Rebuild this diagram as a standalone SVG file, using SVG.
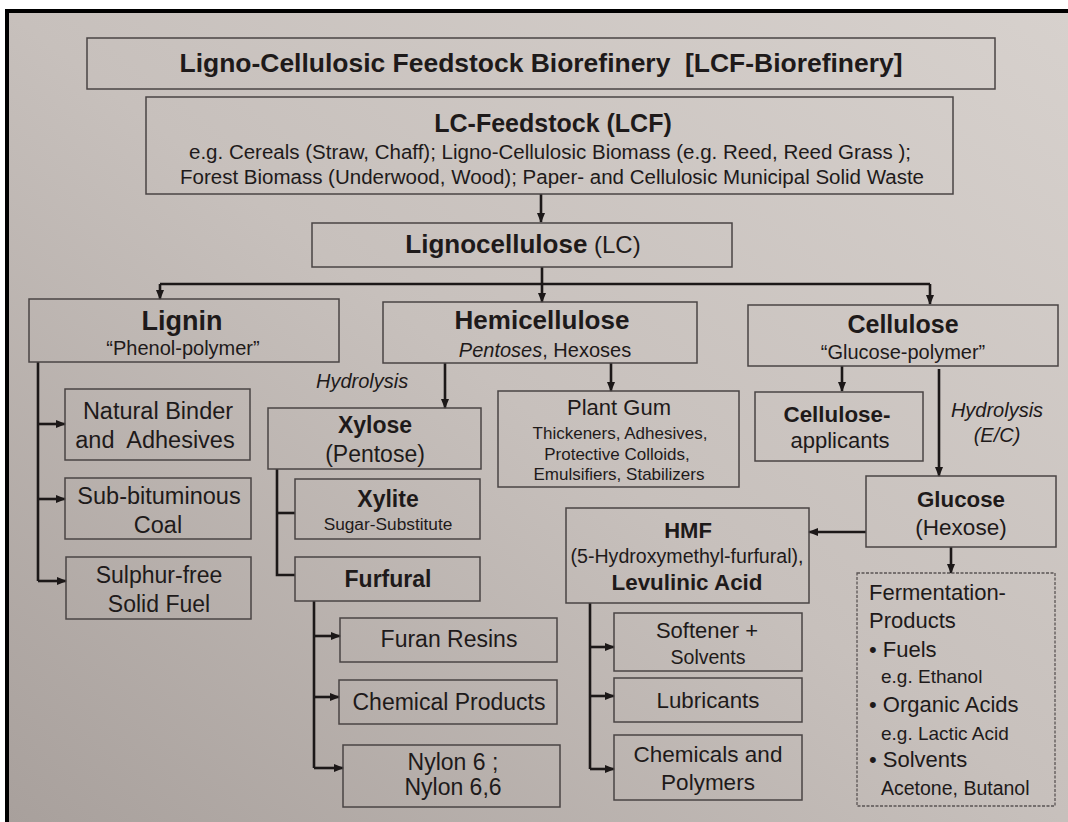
<svg xmlns="http://www.w3.org/2000/svg" width="1068" height="822" viewBox="0 0 1068 822">
<defs>
<linearGradient id="bg" x1="1" y1="0" x2="0" y2="1">
<stop offset="0" stop-color="#d7d1cd"/>
<stop offset="0.5" stop-color="#c7c0bc"/>
<stop offset="1" stop-color="#a8a09c"/>
</linearGradient>
<marker id="ah" markerWidth="10" markerHeight="8" refX="9" refY="4" orient="auto" markerUnits="userSpaceOnUse">
<path d="M0,0 L10,4 L0,8 z" fill="#1c1818"/>
</marker>
<style>
.box{fill:none;stroke:#4a4444;stroke-width:1.5}
.dash{fill:none;stroke:#5a5454;stroke-width:1.3;stroke-dasharray:3 1.5}
.ln{fill:none;stroke:#1c1818;stroke-width:2.6}
.arr{fill:none;stroke:#1c1818;stroke-width:2.6;marker-end:url(#ah)}
text{font-family:"Liberation Sans",Arial,sans-serif;fill:#1e1a1a}
.c{text-anchor:middle}
.b{font-weight:bold}
.i{font-style:italic}
</style>
</defs>
<rect x="0" y="0" width="1068" height="822" fill="#ffffff"/>
<rect x="7" y="11" width="1061" height="811" fill="url(#bg)"/>
<path d="M7,822 V11 H1068" fill="none" stroke="#000" stroke-width="4"/>

<g id="connectors">
<path class="arr" d="M541,194 V222"/>
<path class="arr" d="M542,267 V302"/>
<path class="ln" d="M160,284 H930" stroke-width="3"/>
<path class="arr" d="M160,284 V299"/>
<path class="arr" d="M930,284 V304"/>
<path class="arr" d="M445,363 V408"/>
<path class="arr" d="M611,363 V391"/>
<path class="arr" d="M842,366 V391"/>
<path class="arr" d="M939,369 V476"/>
<path class="arr" d="M866,532 H809"/>
<path class="arr" d="M951,547 V573"/>
<path class="ln" d="M38,362 V581"/>
<path class="arr" d="M37,424 H65"/>
<path class="arr" d="M37,499 H65"/>
<path class="arr" d="M38,581 H66"/>
<path class="ln" d="M277,469 V575 H295"/>
<path class="ln" d="M277,513 H295"/>
<path class="ln" d="M314,601 V768"/>
<path class="arr" d="M313,636 H340"/>
<path class="arr" d="M313,697 H339"/>
<path class="arr" d="M314,768 H343"/>
<path class="ln" d="M590,603 V769"/>
<path class="arr" d="M589,647 H614"/>
<path class="arr" d="M589,696 H614"/>
<path class="arr" d="M590,769 H614"/>
</g>

<g id="title">
<rect class="box" x="87" y="38" width="908" height="51"/>
<text class="c b" x="541" y="72" font-size="26" textLength="723" lengthAdjust="spacingAndGlyphs">Ligno-Cellulosic Feedstock Biorefinery&#160; [LCF-Biorefinery]</text>
</g>
<g id="lcf">
<rect class="box" x="146" y="97" width="807" height="97"/>
<text class="c b" x="553" y="132" font-size="25">LC-Feedstock (LCF)</text>
<text class="c" x="550" y="159" font-size="20" textLength="722" lengthAdjust="spacingAndGlyphs">e.g. Cereals (Straw, Chaff); Ligno-Cellulosic Biomass (e.g. Reed, Reed Grass );</text>
<text class="c" x="552" y="184" font-size="20" textLength="744" lengthAdjust="spacingAndGlyphs">Forest Biomass (Underwood, Wood); Paper- and Cellulosic Municipal Solid Waste</text>
</g>
<g id="lc">
<rect class="box" x="312" y="223" width="420" height="44"/>
<text class="c" x="523" y="253" font-size="24"><tspan class="b" font-size="26">Lignocellulose</tspan> (LC)</text>
</g>
<g id="lignin">
<rect class="box" x="29" y="299" width="310" height="63"/>
<text class="c b" x="182" y="330" font-size="27">Lignin</text>
<text class="c" x="183" y="355" font-size="20">“Phenol-polymer”</text>
</g>
<g id="hemicellulose">
<rect class="box" x="383" y="302" width="314" height="61"/>
<text class="c b" x="542" y="329" font-size="26">Hemicellulose</text>
<text class="c" x="545" y="357" font-size="20"><tspan class="i">Pentoses</tspan>, Hexoses</text>
</g>
<g id="cellulose">
<rect class="box" x="748" y="305" width="310" height="61"/>
<text class="c b" x="903" y="333" font-size="25" fill="#3a3434">Cellulose</text>
<text class="c" x="903" y="359" font-size="20">“Glucose-polymer”</text>
</g>
<g id="hydrolysis-label-1">
<text class="i" x="316" y="388" font-size="20">Hydrolysis</text>
</g>
<g id="hydrolysis-label-2">
<text class="c i" x="997" y="417" font-size="20">Hydrolysis</text>
<text class="c i" x="997" y="442" font-size="20">(E/C)</text>
</g>
<g id="natural-binder">
<rect class="box" x="65" y="389" width="185" height="71"/>
<text class="c" x="158" y="419" font-size="23.5">Natural Binder</text>
<text class="c" x="155" y="448" font-size="23.5">and&#160; Adhesives</text>
</g>
<g id="sub-bituminous">
<rect class="box" x="65" y="478" width="186" height="61"/>
<text class="c" x="159" y="504" font-size="23.5">Sub-bituminous</text>
<text class="c" x="158" y="533" font-size="23.5">Coal</text>
</g>
<g id="sulphur-free">
<rect class="box" x="66" y="557" width="185" height="62"/>
<text class="c" x="159" y="583" font-size="23">Sulphur-free</text>
<text class="c" x="159" y="612" font-size="23">Solid Fuel</text>
</g>
<g id="xylose">
<rect class="box" x="268" y="408" width="213" height="61"/>
<text class="c b" x="375" y="433" font-size="23">Xylose</text>
<text class="c" x="375" y="462" font-size="23">(Pentose)</text>
</g>
<g id="xylite">
<rect class="box" x="295" y="479" width="185" height="60"/>
<text class="c b" x="388" y="507" font-size="23">Xylite</text>
<text class="c" x="388" y="530" font-size="17.3">Sugar-Substitute</text>
</g>
<g id="furfural">
<rect class="box" x="295" y="557" width="185" height="44"/>
<text class="c b" x="388" y="587" font-size="23">Furfural</text>
</g>
<g id="furan-resins">
<rect class="box" x="340" y="618" width="217" height="44"/>
<text class="c" x="449" y="647" font-size="23">Furan Resins</text>
</g>
<g id="chemical-products">
<rect class="box" x="339" y="680" width="218" height="44"/>
<text class="c" x="449" y="710" font-size="23">Chemical Products</text>
</g>
<g id="nylon">
<rect class="box" x="343" y="745" width="217" height="62"/>
<text class="c" x="453" y="770" font-size="23">Nylon 6 ;</text>
<text class="c" x="453" y="795" font-size="23">Nylon 6,6</text>
</g>
<g id="plant-gum">
<rect class="box" x="498" y="391" width="241" height="96"/>
<text class="c" x="619" y="415" font-size="22">Plant Gum</text>
<text class="c" x="620" y="439" font-size="17">Thickeners, Adhesives,</text>
<text class="c" x="617" y="460" font-size="17">Protective Colloids,</text>
<text class="c" x="619" y="480" font-size="17">Emulsifiers, Stabilizers</text>
</g>
<g id="cellulose-applicants">
<rect class="box" x="755" y="392" width="168" height="69"/>
<text class="c b" x="837" y="422" font-size="22.4">Cellulose-</text>
<text class="c" x="840" y="448" font-size="22">applicants</text>
</g>
<g id="glucose">
<rect class="box" x="866" y="476" width="190" height="71"/>
<text class="c b" x="961" y="507" font-size="22.3">Glucose</text>
<text class="c" x="961" y="535" font-size="22.5">(Hexose)</text>
</g>
<g id="hmf">
<rect class="box" x="566" y="508" width="243" height="95"/>
<text class="c b" x="688" y="538" font-size="22">HMF</text>
<text class="c" x="687" y="563" font-size="19.6">(5-Hydroxymethyl-furfural),</text>
<text class="c b" x="687" y="590" font-size="22.4">Levulinic Acid</text>
</g>
<g id="softener">
<rect class="box" x="614" y="613" width="188" height="58"/>
<text class="c" x="707" y="638" font-size="22">Softener +</text>
<text class="c" x="708" y="664" font-size="19.5">Solvents</text>
</g>
<g id="lubricants">
<rect class="box" x="614" y="678" width="188" height="44"/>
<text class="c" x="708" y="708" font-size="22.3">Lubricants</text>
</g>
<g id="chemicals-polymers">
<rect class="box" x="614" y="735" width="188" height="65"/>
<text class="c" x="708" y="762" font-size="22.5">Chemicals and</text>
<text class="c" x="708" y="790" font-size="22.5">Polymers</text>
</g>
<g id="fermentation">
<rect class="dash" x="857" y="573" width="198" height="233"/>
<text x="869" y="600" font-size="22">Fermentation-</text>
<text x="869" y="628" font-size="22">Products</text>
<text x="869" y="657" font-size="22">• Fuels</text>
<text x="881" y="683" font-size="19">e.g. Ethanol</text>
<text x="869" y="712" font-size="22">• Organic Acids</text>
<text x="881" y="740" font-size="19">e.g. Lactic Acid</text>
<text x="869" y="767" font-size="22">• Solvents</text>
<text x="881" y="795" font-size="19.5">Acetone, Butanol</text>
</g>
</svg>
